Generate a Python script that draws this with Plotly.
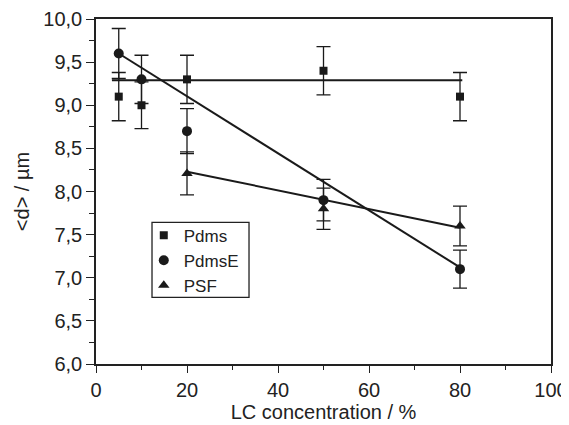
import plotly.graph_objects as go

# Data
pdms_x = [5, 10, 20, 50, 80]
pdms_y = [9.1, 9.0, 9.3, 9.4, 9.1]
pdms_err = [0.28, 0.27, 0.28, 0.28, 0.28]

pdmse_x = [5, 10, 20, 50, 80]
pdmse_y = [9.6, 9.3, 8.7, 7.9, 7.1]
pdmse_err = [0.29, 0.28, 0.26, 0.24, 0.22]

psf_x = [20, 50, 80]
psf_y = [8.21, 7.8, 7.6]
psf_err = [0.25, 0.24, 0.23]

# Linear fits (endpoints)
pdms_fit_x = [3.5, 80.5]
pdms_fit_y = [9.29, 9.29]
pdmse_fit_x = [5, 80]
pdmse_fit_y = [9.6, 7.12]
psf_fit_x = [20, 80]
psf_fit_y = [8.23, 7.58]

ink = "#1a1a1a"
fig = go.Figure()

for fx, fy in [(pdms_fit_x, pdms_fit_y), (pdmse_fit_x, pdmse_fit_y), (psf_fit_x, psf_fit_y)]:
    fig.add_trace(go.Scatter(x=fx, y=fy, mode="lines", line=dict(color=ink, width=2),
                             showlegend=False, hoverinfo="skip"))

def eb(e):
    return dict(type="data", array=e, visible=True, color=ink, thickness=1.3, width=7)

fig.add_trace(go.Scatter(x=pdms_x, y=pdms_y, mode="markers", name="Pdms",
                         marker=dict(symbol="square", size=8, color=ink), error_y=eb(pdms_err)))
fig.add_trace(go.Scatter(x=pdmse_x, y=pdmse_y, mode="markers", name="PdmsE",
                         marker=dict(symbol="circle", size=10, color=ink), error_y=eb(pdmse_err)))
fig.add_trace(go.Scatter(x=psf_x, y=psf_y, mode="markers", name="PSF",
                         marker=dict(symbol="triangle-up", size=10, color=ink), error_y=eb(psf_err)))

font = "Liberation Sans, Arial, sans-serif"
fig.update_layout(
    width=561, height=417,
    margin=dict(l=88, r=18, t=11, b=61),
    paper_bgcolor="white", plot_bgcolor="white",
    separators=", ",
    font=dict(family=font, size=19, color="#222"),
    showlegend=True,
    legend=dict(x=0.105, y=0.4243, xanchor="left", yanchor="top",
                borderwidth=0, bgcolor="rgba(0,0,0,0)",
                font=dict(size=17), itemwidth=30, tracegroupgap=0),
    shapes=[dict(type="rect", xref="paper", yref="paper",
                 x0=0.1231, x1=0.3363, y0=0.1933, y1=0.4107,
                 line=dict(color="#222", width=1.3), layer="above")],
)
fig.update_xaxes(range=[0, 100], tickvals=[0, 20, 40, 60, 80, 100],
                 ticks="outside", ticklen=7, tickwidth=1.3, tickcolor="#222",
                 minor=dict(dtick=10, ticks="outside", ticklen=4, tickwidth=1.3, tickcolor="#222"),
                 showline=True, linecolor="#222", linewidth=1.5, mirror=True,
                 showgrid=False, zeroline=False, automargin=False,
                 title=dict(text="LC concentration / %", font=dict(size=20), standoff=4),
                 tickfont=dict(size=20))
fig.update_yaxes(range=[6, 10], dtick=0.5, tickformat=".1f",
                 ticks="outside", ticklen=8, tickwidth=1.3, tickcolor="#222",
                 minor=dict(dtick=0.25, ticks="outside", ticklen=5, tickwidth=1.3, tickcolor="#222"),
                 showline=True, linecolor="#222", linewidth=1.5, mirror=True,
                 showgrid=False, zeroline=False, automargin=False,
                 title=dict(text="<d> / µm", font=dict(size=20), standoff=8),
                 tickfont=dict(size=20))

fig.write_html("out.html")
